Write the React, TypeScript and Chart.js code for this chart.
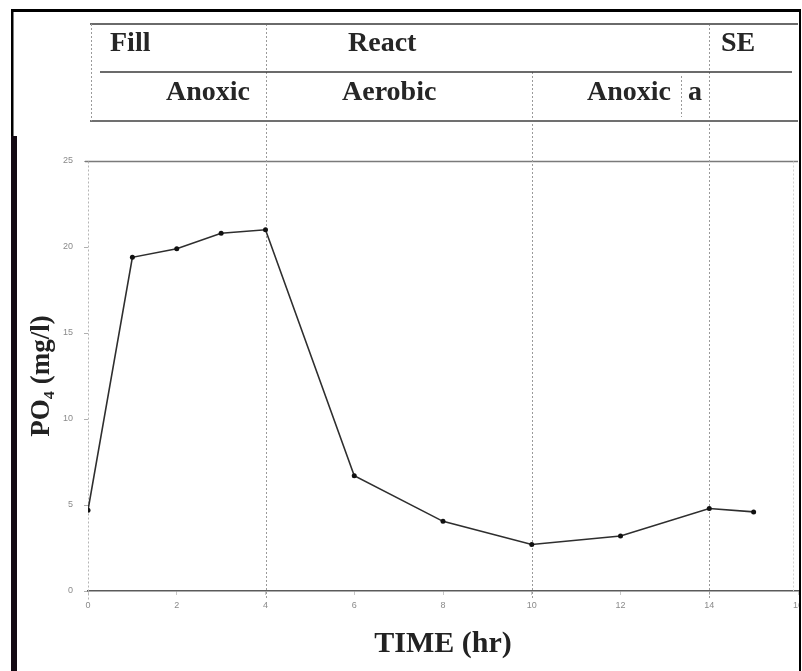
import React, { useEffect, useRef } from "react";
import { Chart, registerables } from "chart.js";

Chart.register(...registerables);

// ---- data ----
const timeHours = [0, 1, 2, 3, 4, 6, 8, 10, 12, 14, 15];
const po4Values = [4.7, 19.4, 19.9, 20.8, 21.0, 6.7, 4.05, 2.7, 3.2, 4.8, 4.6];
const xTickValues = [0, 2, 4, 6, 8, 10, 12, 14, 16];
const yTickValues = [0, 5, 10, 15, 20, 25];
const stageLabels = ["Fill", "React", "SE"];
const phaseLabels = ["Anoxic", "Aerobic", "Anoxic", "a"];
const stageBounds = [4, 14];
const phaseBounds = [4, 10, 14];
const xAxisTitle = "TIME (hr)";
const yAxisTitle = "PO\u2084 (mg/l)";

const SERIF = '"Liberation Serif", "Times New Roman", serif';

const decorPlugin = {
  id: "decor",
  beforeDatasetsDraw(chart: any) {
    const { ctx, scales, chartArea } = chart;
    const x = scales.x;
    const y = scales.y;
    ctx.save();
    // top reference line at y = 25
    ctx.strokeStyle = "#7a7a7a";
    ctx.lineWidth = 1.5;
    ctx.setLineDash([]);
    const yTop = Math.round(y.getPixelForValue(25)) + 0.5;
    ctx.beginPath();
    ctx.moveTo(chartArea.left - 3, yTop);
    ctx.lineTo(chartArea.right, yTop);
    ctx.stroke();
    // dotted y axis
    ctx.strokeStyle = "#b5b5b5";
    ctx.lineWidth = 1;
    ctx.setLineDash([2, 2]);
    const ax = Math.round(chartArea.left) + 0.5;
    ctx.beginPath();
    ctx.moveTo(ax, yTop);
    ctx.lineTo(ax, chartArea.bottom + 9);
    ctx.stroke();
    // phase boundary dotted lines through plot
    ctx.strokeStyle = "#9a9a9a";
    phaseBounds.forEach((v) => {
      const px = Math.round(x.getPixelForValue(v)) + 0.5;
      const top = stageBounds.includes(v) ? 24 : 72;
      ctx.beginPath();
      ctx.moveTo(px, top);
      ctx.lineTo(px, chartArea.bottom + 9);
      ctx.stroke();
    });
    // right plot edge (faint dotted)
    ctx.strokeStyle = "#d2d2d2";
    ctx.beginPath();
    ctx.moveTo(chartArea.right - 4.5, yTop);
    ctx.lineTo(chartArea.right - 4.5, chartArea.bottom);
    ctx.stroke();
    ctx.restore();
  },
  afterDraw(chart: any) {
    const { ctx, scales } = chart;
    const x = scales.x;
    ctx.save();
    // ---- header table ----
    const hLeft = 90;
    const hRight = 798;
    const rowTop = 24;
    const rowMid = 72;
    const rowBot = 121;
    ctx.setLineDash([]);
    ctx.strokeStyle = "#6a6a6a";
    ctx.lineWidth = 2;
    ctx.beginPath();
    ctx.moveTo(hLeft, rowTop);
    ctx.lineTo(hRight, rowTop);
    ctx.stroke();
    ctx.strokeStyle = "#3a3a3a";
    ctx.lineWidth = 1.5;
    ctx.beginPath();
    ctx.moveTo(100, rowMid);
    ctx.lineTo(792, rowMid);
    ctx.stroke();
    ctx.strokeStyle = "#707070";
    ctx.lineWidth = 2;
    ctx.beginPath();
    ctx.moveTo(hLeft, rowBot);
    ctx.lineTo(hRight, rowBot);
    ctx.stroke();
    // left border + small separator
    ctx.strokeStyle = "#9a9a9a";
    ctx.lineWidth = 1;
    ctx.setLineDash([2, 2]);
    ctx.beginPath();
    ctx.moveTo(91.5, rowTop);
    ctx.lineTo(91.5, rowBot);
    ctx.stroke();
    const sepX = Math.round(x.getPixelForValue(13.37)) + 0.5;
    ctx.beginPath();
    ctx.moveTo(sepX, rowMid + 4);
    ctx.lineTo(sepX, rowBot - 4);
    ctx.stroke();
    ctx.setLineDash([]);
    // header text
    ctx.fillStyle = "#262626";
    ctx.font = `bold 28px ${SERIF}`;
    ctx.textAlign = "left";
    ctx.textBaseline = "alphabetic";
    const row1X = [110, 348, 721];
    stageLabels.forEach((t, i) => ctx.fillText(t, row1X[i], 51));
    const row2X = [166, 342, 587, 688];
    phaseLabels.forEach((t, i) => ctx.fillText(t, row2X[i], 100));

    // ---- outer frame ----
    ctx.fillStyle = "#000";
    ctx.fillRect(11, 9, 790, 3); // top
    ctx.fillRect(11, 9, 2.5, 130); // left upper
    ctx.fillStyle = "#140a14";
    ctx.fillRect(11, 136, 6, 671 - 136); // left thick bar
    ctx.fillStyle = "#000";
    ctx.fillRect(799, 9, 2, 671); // right
    ctx.fillStyle = "#fff";
    ctx.fillRect(801, 0, 1, 671);
    ctx.restore();
  },
};

export default function App() {
  const ref = useRef<HTMLCanvasElement | null>(null);

  useEffect(() => {
    if (!ref.current) return;
    const chart = new Chart(ref.current, {
      type: "line",
      data: {
        datasets: [
          {
            label: "PO4",
            data: timeHours.map((t, i) => ({ x: t, y: po4Values[i] })),
            borderColor: "#2e2e2e",
            borderWidth: 1.6,
            pointRadius: 2.5,
            pointBackgroundColor: "#111",
            pointBorderColor: "#111",
            pointBorderWidth: 0,
            tension: 0,
            fill: false,
          },
        ],
      },
      options: {
        responsive: false,
        animation: false,
        layout: { padding: { top: 161, left: 0, right: 1, bottom: 0 } },
        plugins: {
          legend: { display: false },
          tooltip: { enabled: false },
          title: { display: false },
        },
        scales: {
          x: {
            type: "linear",
            min: 0,
            max: 16,
            afterBuildTicks: (scale: any) => {
              scale.ticks = xTickValues.map((v) => ({ value: v }));
            },
            afterFit: (scale: any) => {
              scale.height = 80;
              scale.paddingLeft = 0;
              scale.paddingRight = 0;
            },
            ticks: {
              color: "#8a8a8a",
              font: { size: 9, family: '"Liberation Sans", Arial, sans-serif' },
              padding: 5,
              maxRotation: 0,
              autoSkip: false,
            },
            grid: {
              drawOnChartArea: false,
              drawTicks: true,
              tickLength: 4,
              color: "#c8c8c8",
            },
            border: { display: true, color: "#5a5a5a", width: 1.5 },
            title: {
              display: true,
              text: xAxisTitle,
              color: "#222",
              font: { size: 30, weight: "bold", family: SERIF },
              padding: { top: 0, bottom: 9 },
            },
          },
          y: {
            type: "linear",
            min: 0,
            max: 25,
            afterBuildTicks: (scale: any) => {
              scale.ticks = yTickValues.map((v) => ({ value: v }));
            },
            afterFit: (scale: any) => {
              scale.width = 88;
              scale.paddingTop = 0;
              scale.paddingBottom = 0;
            },
            ticks: {
              color: "#8a8a8a",
              font: { size: 9, family: '"Liberation Sans", Arial, sans-serif' },
              padding: 11,
              autoSkip: false,
            },
            grid: {
              drawOnChartArea: false,
              drawTicks: true,
              tickLength: 4,
              color: "#b0b0b0",
            },
            border: { display: false },
            title: {
              display: true,
              text: yAxisTitle,
              color: "#222",
              font: { size: 27, weight: "bold", family: SERIF },
              padding: { top: 26, bottom: 0 },
            },
          },
        },
      },
      plugins: [decorPlugin],
    } as any);
    return () => chart.destroy();
  }, []);

  return (
    <div style={{ position: "absolute", left: 0, top: 0, width: 802, height: 671, background: "#fff" }}>
      <canvas ref={ref} width={802} height={671} style={{ display: "block" }} />
    </div>
  );
}
